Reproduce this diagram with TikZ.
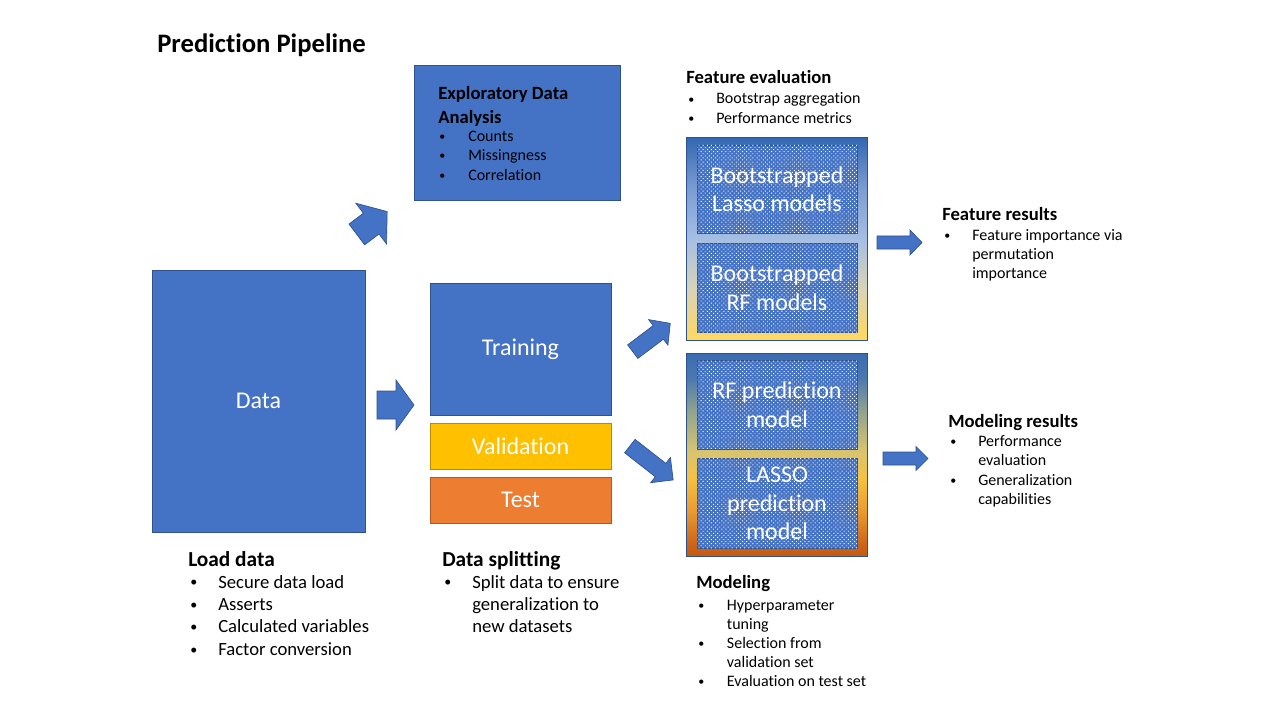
\documentclass[tikz,border=0pt]{standalone}
\usepackage{fontspec}
\setmainfont{Carlito}[Ligatures=CommonOff]
\usetikzlibrary{patterns.meta}
\definecolor{bblue}{HTML}{4472C4}
\definecolor{bedge}{HTML}{2F528F}
\definecolor{byel}{HTML}{FFC000}
\definecolor{yedge}{HTML}{BC8C00}
\definecolor{borange}{HTML}{ED7D31}
\definecolor{oedge}{HTML}{AE5A21}
\definecolor{fA}{HTML}{FFD85E}
\definecolor{fB}{HTML}{D9D4B8}
\definecolor{fC}{HTML}{A5BEE3}
\definecolor{fD}{HTML}{7B9CD2}
\definecolor{fE}{HTML}{3467B1}
\definecolor{mA}{HTML}{C55A11}
\definecolor{mB}{HTML}{CC6418}
\definecolor{mC}{HTML}{E99A30}
\definecolor{mD}{HTML}{F5C242}
\definecolor{mE}{HTML}{D8C470}
\definecolor{mF}{HTML}{8FA290}
\definecolor{mG}{HTML}{4C78B0}
\definecolor{mH}{HTML}{3B6CB0}
\pgfdeclareverticalshading{featshade}{100bp}{color(0bp)=(fA); color(25bp)=(fA); color(37.5bp)=(fB); color(50bp)=(fC); color(62.5bp)=(fD); color(75bp)=(fE); color(100bp)=(fE)}
\pgfdeclareverticalshading{modshade}{100bp}{color(0bp)=(mA); color(25bp)=(mA); color(28bp)=(mB); color(36bp)=(mC); color(44.5bp)=(mD); color(51bp)=(mE); color(61bp)=(mF); color(69bp)=(mG); color(75bp)=(mH); color(100bp)=(mH)}
\newcommand\bul{\raisebox{0.06em}{\scalebox{0.75}{•}}}
\newcommand\blockarr[8]{%
  \begin{scope}[shift={(#2,#3)},rotate=#4]
    \filldraw[arrowst] ({-#5/2},{-#6/2}) -- ({#5/2-#8},{-#6/2}) -- ({#5/2-#8},{-#7/2}) -- ({#5/2},0) -- ({#5/2-#8},{#7/2}) -- ({#5/2-#8},{#6/2}) -- ({-#5/2},{#6/2}) -- cycle;
    \coordinate (#1) at (0,0);
  \end{scope}}
\begin{document}
\begin{tikzpicture}[x=0.75pt,y=-0.75pt,
  mw/.style={minimum width=#1*0.75pt},
  mh/.style={minimum height=#1*0.75pt},
  box/.style={rectangle, inner sep=0pt, draw=bedge, line width=0.75pt, fill=bblue, text=white, font=\fontsize{18}{21.6}\selectfont},
  outer/.style={rectangle, inner sep=0pt, draw=bedge, line width=0.75pt},
  inner/.style={rectangle, inner sep=0pt, draw=bedge, line width=0.6pt, fill=bblue, align=center, text=white, font=\fontsize{18}{21.6}\selectfont,
    postaction={pattern={Dots[distance=2.2pt,radius=0.5pt,angle=45]}, pattern color=white}},
  arrowst/.style={fill=bblue, draw=bedge, line width=0.5pt, line join=miter},
  txt/.style={inner sep=0pt, anchor=base west, align=left, text=black},
  hd/.style={txt, font=\bfseries\fontsize{14}{18}\selectfont},
  hdb/.style={txt, font=\bfseries\fontsize{16}{19.2}\selectfont}
]
\useasboundingbox[fill=white] (0,0) rectangle (1280,720);

% title
\node[txt, font=\bfseries\fontsize{20}{24}\selectfont] (title) at (157,53) {Prediction Pipeline};

% main boxes
\node[box, mw=213, mh=262] (data) at (258.5,401) {Data};
\node[box, mw=181, mh=132] (train) at (520.5,349) {Training};
\node[box, mw=181, mh=46, fill=byel, draw=yedge] (valid) at (520.5,446) {Validation};
\node[box, mw=181, mh=46, fill=borange, draw=oedge] (test) at (520.5,500) {Test};
\node[box, mw=206, mh=135] (eda) at (517,133.5) {};

% EDA text
\node[hd] (edah) at (438,99.2) {\begin{tabular}[t]{@{}l@{}}Exploratory Data\\Analysis\end{tabular}};
\node[txt, font=\fontsize{12}{14.4}\selectfont] (edal) at (439,141.7)
  {\begin{tabular}[t]{@{}p{21.75pt}@{}l@{}}\bul&Counts\\\bul&Missingness\\\bul&Correlation\end{tabular}};

% feature evaluation box
\node[outer, mw=181, mh=202.5, shading=featshade, shade] (feat) at (776.5,238.75) {};
\node[inner, mw=160, mh=88.5] (lassoboot) at (777,189.25) {Bootstrapped\\Lasso models};
\node[inner, mw=160, mh=88.7] (rfboot) at (777,287.7) {Bootstrapped\\RF models};

% modeling box
\node[outer, mw=181, mh=203, shading=modshade, shade] (model) at (776.5,455) {};
\node[inner, mw=160, mh=89] (rfpred) at (777,404.5) {RF prediction\\model};
\node[inner, mw=160, mh=90] (lassopred) at (777,503.3) {LASSO\\prediction\\model};

% block arrows
\blockarr{a1}{395.5}{405}{0}{37}{28}{50}{18}
\blockarr{a2}{372}{223}{37}{38}{26}{51}{20}
\blockarr{a3}{651.5}{337.5}{37}{47}{17}{32}{15}
\blockarr{a4}{651.5}{463}{-38}{55}{17}{32}{16}
\blockarr{a5}{899.5}{242.5}{0}{45}{13}{25}{12}
\blockarr{a6}{905.5}{458.5}{0}{45}{13}{24}{12}

% feature evaluation text
\node[hd] (feh) at (686,84) {Feature evaluation};
\node[txt, font=\fontsize{12}{14.5}\selectfont] (fel) at (688,104)
  {\begin{tabular}[t]{@{}p{21pt}@{}l@{}}\bul&Bootstrap aggregation\\\bul&Performance metrics\end{tabular}};

% feature results
\node[hd] (frh) at (942,220) {Feature results};
\node[txt, font=\fontsize{12}{14.4}\selectfont] (frl) at (944,240)
  {\begin{tabular}[t]{@{}p{21pt}@{}l@{}}\bul&Feature importance via\\&permutation\\&importance\end{tabular}};

% modeling results
\node[hd] (mrh) at (948,427.5) {Modeling results};
\node[txt, font=\fontsize{12}{14.4}\selectfont] (mrl) at (950,446.7)
  {\begin{tabular}[t]{@{}p{21pt}@{}l@{}}\bul&Performance\\&evaluation\\\bul&Generalization\\&capabilities\end{tabular}};

% load data
\node[hdb] (ldh) at (188,566) {Load data};
\node[txt, font=\fontsize{14}{16.8}\selectfont] (ldl) at (190,588)
  {\begin{tabular}[t]{@{}p{21pt}@{}l@{}}\bul&Secure data load\\\bul&Asserts\\\bul&Calculated variables\\\bul&Factor conversion\end{tabular}};

% data splitting
\node[hdb] (dsh) at (442,566) {Data splitting};
\node[txt, font=\fontsize{14}{16.8}\selectfont] (dsl) at (444,588)
  {\begin{tabular}[t]{@{}p{21pt}@{}l@{}}\bul&Split data to ensure\\&generalization to\\&new datasets\end{tabular}};

% modeling
\node[hd] (mh) at (696,588.3) {Modeling};
\node[txt, font=\fontsize{12}{14.3}\selectfont] (ml) at (698,610)
  {\begin{tabular}[t]{@{}p{21.5pt}@{}l@{}}\bul&Hyperparameter\\&tuning\\\bul&Selection from\\&validation set\\\bul&Evaluation on test set\end{tabular}};
\end{tikzpicture}
\end{document}
